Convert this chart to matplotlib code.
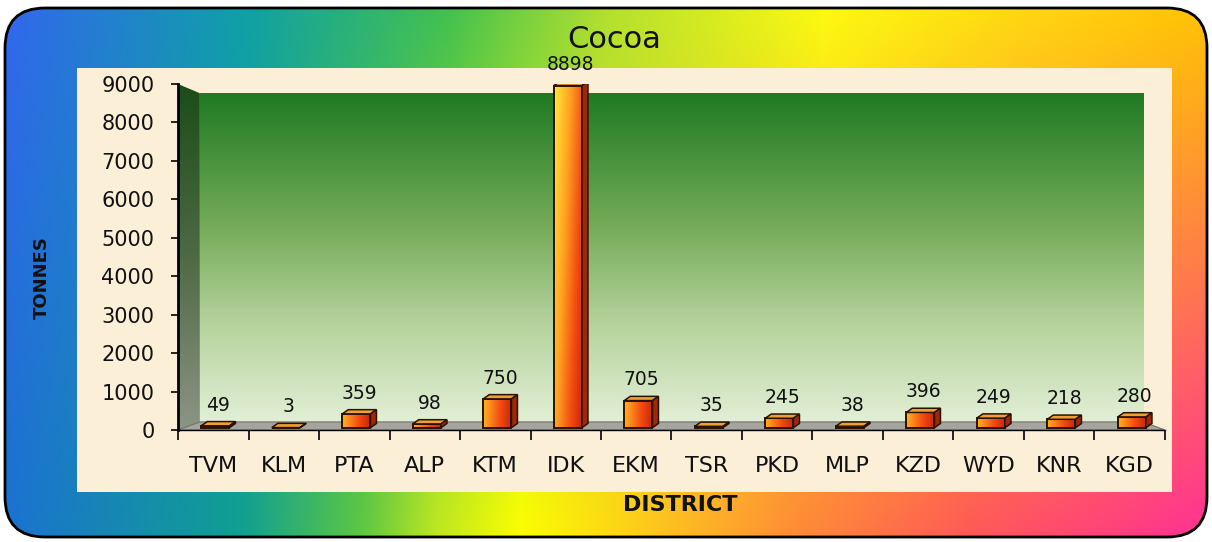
import numpy as np
import matplotlib
matplotlib.use("Agg")
import matplotlib.pyplot as plt
from matplotlib.colors import to_rgb, LinearSegmentedColormap
from matplotlib.patches import FancyBboxPatch, Rectangle, Polygon

DISTRICTS = ["TVM", "KLM", "PTA", "ALP", "KTM", "IDK", "EKM",
             "TSR", "PKD", "MLP", "KZD", "WYD", "KNR", "KGD"]
TONNES = [49, 3, 359, 98, 750, 8898, 705, 35, 245, 38, 396, 249, 218, 280]
Y_TICKS = list(range(0, 9001, 1000))

W, H = 1212, 542

# rainbow frame colours, top edge and bottom edge (x fraction, colour)
TOP_STOPS = [(0.0, "#3366f0"), (0.2, "#10a0a8"), (0.37, "#40c050"), (0.5, "#b0e030"),
             (0.68, "#fcfc10"), (0.85, "#ffd810"), (1.0, "#ffc400")]
BOT_STOPS = [(0.0, "#1a72d0"), (0.2, "#10a090"), (0.3, "#60c840"), (0.36, "#c0e820"),
             (0.43, "#ffff00"), (0.55, "#ffc020"), (0.66, "#ff8838"), (0.8, "#ff5858"),
             (1.0, "#ff2e98")]


def ramp(stops, n):
    pos = [p for p, _ in stops]
    cols = np.array([to_rgb(c) for _, c in stops])
    t = np.linspace(0, 1, n)
    return np.stack([np.interp(t, pos, cols[:, k]) for k in range(3)], axis=1)


fig = plt.figure(figsize=(W / 100, H / 100), dpi=100)
fig.patch.set_facecolor("white")

# background layer in pixel coordinates
bg = fig.add_axes([0, 0, 1, 1])
bg.set_xlim(0, W)
bg.set_ylim(H, 0)
bg.axis("off")

top = ramp(TOP_STOPS, W)
bot = ramp(BOT_STOPS, W)
yy = np.linspace(0, 1, H)[:, None, None]
img = top[None] * (1 - yy) + bot[None] * yy
frame = FancyBboxPatch((5, 8), 1202, 529, boxstyle="round,pad=0,rounding_size=40",
                       transform=bg.transData, facecolor="none", edgecolor="none")
bg.add_patch(frame)
im = bg.imshow(img, extent=[0, W, H, 0], aspect="auto", zorder=0)
im.set_clip_path(frame)
bg.add_patch(FancyBboxPatch((5, 8), 1202, 529, boxstyle="round,pad=0,rounding_size=40",
                            facecolor="none", edgecolor="black", lw=2, zorder=2))
bg.add_patch(Rectangle((77, 68), 1095, 424, facecolor="#fcefd8", edgecolor="none", zorder=1))

bg.text(614, 39, "Cocoa", ha="center", va="center", fontsize=22, color="#111111")
bg.text(42, 278, "TONNES", ha="center", va="center", rotation=90,
        fontsize=13, fontweight="bold", color="#111111")
bg.text(680, 505, "DISTRICT", ha="center", va="center",
        fontsize=16, fontweight="bold", color="#111111")

# main chart
ax = fig.add_axes([178 / W, 112 / H, 987 / W, 346 / H])
ax.patch.set_alpha(0)

DX, DY, WALL_TOP = 0.31, 210, 8760
x = np.arange(len(DISTRICTS))
x0_lim, x1_lim = -0.5, len(DISTRICTS) - 0.5

wall_cmap = LinearSegmentedColormap.from_list(
    "wall", [(0, "#e2efd6"), (0.3, "#b5d29c"), (0.6, "#74ab58"), (1, "#1f7a22")])
ax.imshow(np.linspace(0, 1, 256)[:, None], cmap=wall_cmap, origin="lower", aspect="auto",
          extent=[x0_lim + DX, x1_lim - DX, DY, WALL_TOP], zorder=0)

side = Polygon([(x0_lim, 0), (x0_lim, 9000), (x0_lim + DX, WALL_TOP), (x0_lim + DX, DY)],
               facecolor="none", edgecolor="none")
ax.add_patch(side)
side_cmap = LinearSegmentedColormap.from_list("side", ["#8d9585", "#4e6a45", "#1b4d17"])
sim = ax.imshow(np.linspace(0, 1, 256)[:, None], cmap=side_cmap, origin="lower", aspect="auto",
                extent=[x0_lim, x0_lim + DX, 0, 9000], zorder=1)
sim.set_clip_path(side)

ax.add_patch(Polygon([(x0_lim, 0), (x0_lim + DX, DY), (x1_lim - DX, DY), (x1_lim, 0)],
                     facecolor="#a5a59d", edgecolor="#707070", lw=0.8, zorder=1))

# bars with a yellow-to-red gradient and a simple 3d top / side
BW, OFF, BASE = 0.4, 0.03, 60
DDX, DDY = 0.085, 110
bar_cmap = LinearSegmentedColormap.from_list(
    "bar", [(0, "#ffe83a"), (0.35, "#ffa020"), (0.65, "#f24a12"), (1, "#b01a08")])

bars = ax.bar(x + OFF, TONNES, width=BW, bottom=BASE, facecolor="none",
              edgecolor="#2a1200", lw=1.4, zorder=4)
for rect, v in zip(bars, TONNES):
    bx, by = rect.get_x(), rect.get_y()
    bw, bh = rect.get_width(), rect.get_height()
    xf = np.linspace(0, 1, 40)[None, :]
    yf = np.linspace(by, by + bh, 60)[:, None] / 9000
    val = 0.6 * xf + 0.3 * (1 - yf)
    gi = ax.imshow(val, cmap=bar_cmap, vmin=0, vmax=1, origin="lower", aspect="auto",
                   extent=[bx, bx + bw, by, by + bh], zorder=3)
    gi.set_clip_path(rect)
    ytop = by + bh
    ax.add_patch(Polygon([(bx, ytop), (bx + bw, ytop), (bx + bw + DDX, ytop + DDY),
                          (bx + DDX, ytop + DDY)],
                         facecolor="#f0a030", edgecolor="#2a1200", lw=1.1, zorder=5))
    ax.add_patch(Polygon([(bx + bw, by), (bx + bw, ytop), (bx + bw + DDX, ytop + DDY),
                          (bx + bw + DDX, by + DDY)],
                         facecolor="#a02808", edgecolor="#2a1200", lw=1.1, zorder=5))
    ax.annotate(str(v), (bx + bw / 2 + DDX / 2, ytop + DDY), xytext=(0, 5),
                textcoords="offset points", ha="center", va="bottom",
                fontsize=13.5, color="#111111", zorder=6, annotation_clip=False)

ax.set_xlim(x0_lim, x1_lim)
ax.set_ylim(0, 9000)

for s in ["top", "right"]:
    ax.spines[s].set_visible(False)
ax.spines["left"].set_linewidth(2)
ax.spines["bottom"].set_linewidth(1)
ax.spines["left"].set_zorder(7)

ax.set_yticks(Y_TICKS)
ax.set_yticklabels([str(t) for t in Y_TICKS])
ax.tick_params(axis="y", direction="out", length=5, width=1.2, pad=12,
               labelsize=15, labelcolor="#111111")

ax.set_xticks(np.arange(x0_lim, x1_lim + 0.01, 1))
ax.set_xticklabels([])
ax.tick_params(axis="x", which="major", direction="out", length=7, width=1.2)
ax.set_xticks(x, DISTRICTS, minor=True)
ax.tick_params(axis="x", which="minor", length=0, pad=19, labelsize=16, labelcolor="#111111")

plt.savefig("out.png", dpi=100)
